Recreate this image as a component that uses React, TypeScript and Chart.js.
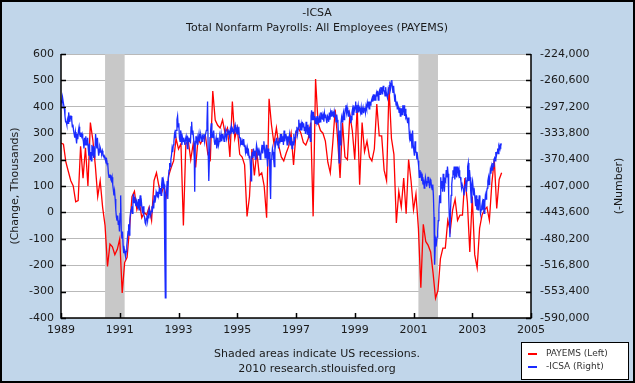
import React, { useEffect, useRef } from 'react';
import { Chart, registerables } from 'chart.js';

Chart.register(...registerables);

// ---------- data ----------
const TITLE_1 = '-ICSA';
const TITLE_2 = 'Total Nonfarm Payrolls: All Employees (PAYEMS)';
const LEFT_TITLE = '(Change, Thousands)';
const RIGHT_TITLE = '(-Number)';
const FOOT_1 = 'Shaded areas indicate US recessions.';
const FOOT_2 = '2010 research.stlouisfed.org';
const LEGEND_LABELS = ['PAYEMS (Left)', '-ICSA (Right)'];

const xTickYears = [1989, 1991, 1993, 1995, 1997, 1999, 2001, 2003, 2005];
const leftTicks = [-400, -300, -200, -100, 0, 100, 200, 300, 400, 500, 600];
const rightTicks = [-590000, -553400, -516800, -480200, -443600, -407000, -370400, -333800, -297200, -260600, -224000];

const recessionStarts = [1990.5, 2001.1667];
const recessionEnds = [1991.1667, 2001.8333];

// PAYEMS monthly change (thousands), Jan 1989 .. Jan 2004
const payemsStartYear = 1989;
const payems = [
  263, 258, 190, 155, 120, 100, 40, 45, 250, 130, 245, 100,
  340, 275, 180, 60, 120, 20, -50, -205, -120, -130, -160, -140,
  -100, -305, -190, -170, -60, 60, 80, 10, 40, -20, 0, -10,
  20, -30, 120, 150, 100, 70, 100, 60, 140, 170, 195, 280,
  240, 260, -50, 260, 270, 200, 260, 170, 280, 260, 280, 290,
  220, 200, 460, 350, 330, 320, 350, 300, 320, 210, 420, 280,
  320, 220, 210, 180, -15, 60, 240, 140, 230, 140, 150, 100,
  -20, 430, 330, 260, 320, 250, 210, 195, 225, 250, 300, 180,
  300, 320, 300, 265, 255, 280, 340, -15, 505, 340, 310, 300,
  270, 190, 150, 260, 390, 280, 130, 340, 210, 200, 370, 310,
  200, 400, 105, 340, 230, 270, 210, 195, 240, 410, 290, 290,
  160, 120, 475, 280, 220, -40, 80, 20, 130, -5, 200, 120,
  10, 70, -60, -285, -45, -110, -125, -150, -230, -325, -295, -175,
  -135, -135, -30, -70, 10, 50, -30, -10, -10, 130, 40, -150,
  60, -160, -210, -60, -10, 10, 20, -30, 110, 200, 15, 125,
  150,
];

// Initial claims (thousands), four readings per month, Jan 1989 .. Dec 2003 (plotted negated)
const icsaStartYear = 1989;
const icsaK = [
  // 1989
  288, 292, 284, 290, 290, 300, 310, 318, 318, 322, 315, 320, 305, 312, 318, 310,
  310, 315, 325, 322, 330, 335, 340, 332, 340, 348, 335, 342, 330, 325, 335, 338,
  333, 338, 335, 340, 345, 355, 340, 350, 338, 345, 350, 340, 355, 365, 348, 370,
  // 1990
  360, 372, 350, 365, 352, 368, 358, 362, 335, 345, 355, 340, 355, 365, 360, 352,
  355, 360, 362, 358, 362, 366, 365, 368, 368, 372, 370, 375, 378, 390, 395, 392,
  392, 398, 400, 395, 405, 412, 420, 414, 425, 440, 450, 455, 448, 460, 455, 470,
  // 1991
  445, 420, 470, 480, 470, 490, 500, 495, 500, 505, 498, 490, 480, 470, 460, 475,
  455, 445, 440, 435, 445, 425, 418, 430, 422, 430, 435, 428, 432, 438, 425, 440,
  428, 420, 435, 430, 440, 445, 435, 448, 450, 458, 460, 452, 448, 455, 445, 452,
  // 1992
  440, 445, 448, 442, 435, 440, 432, 438, 420, 430, 425, 415, 418, 422, 415, 420,
  412, 418, 410, 420, 405, 395, 410, 400, 405, 495, 562, 420, 415, 400, 425, 395,
  385, 375, 380, 370, 365, 355, 360, 350, 345, 335, 340, 330, 330, 315, 310, 325,
  // 1993
  320, 340, 345, 330, 335, 350, 340, 345, 340, 345, 350, 342, 338, 345, 355, 340,
  342, 345, 340, 348, 325, 318, 335, 330, 340, 350, 415, 345, 338, 345, 340, 350,
  342, 335, 345, 340, 336, 340, 345, 338, 340, 335, 345, 338, 338, 330, 320, 290,
  // 1994
  360, 400, 370, 340, 330, 320, 340, 335, 340, 330, 345, 350, 345, 340, 355, 350,
  340, 350, 345, 338, 342, 335, 345, 340, 335, 340, 345, 338, 330, 338, 342, 335,
  328, 335, 330, 338, 330, 335, 325, 332, 328, 330, 335, 325, 322, 330, 328, 335,
  // 1995
  328, 335, 325, 340, 340, 348, 345, 350, 345, 350, 342, 352, 350, 360, 355, 362,
  355, 365, 360, 368, 365, 378, 400, 370, 360, 368, 355, 365, 358, 370, 362, 350,
  355, 362, 358, 365, 360, 370, 365, 358, 350, 362, 355, 345, 355, 368, 360, 350,
  // 1996
  365, 380, 355, 370, 360, 400, 425, 370, 365, 355, 360, 370, 380, 345, 350, 342,
  340, 350, 345, 355, 340, 348, 335, 345, 335, 345, 338, 350, 330, 345, 340, 335,
  340, 350, 338, 345, 345, 335, 350, 340, 340, 355, 345, 350, 335, 345, 340, 332,
  // 1997
  330, 325, 335, 328, 315, 325, 320, 330, 322, 330, 318, 325, 320, 330, 325, 335,
  318, 328, 335, 322, 330, 340, 325, 345, 310, 302, 315, 305, 305, 315, 310, 320,
  312, 318, 310, 322, 315, 320, 312, 318, 305, 312, 308, 315, 310, 318, 306, 312,
  // 1998
  308, 315, 320, 310, 312, 318, 305, 315, 305, 310, 302, 308, 306, 312, 304, 310,
  310, 318, 308, 315, 320, 340, 375, 330, 350, 320, 312, 318, 310, 305, 315, 308,
  300, 295, 305, 298, 305, 310, 302, 308, 310, 320, 315, 305, 300, 308, 295, 302,
  // 1999
  298, 290, 305, 295, 300, 295, 305, 298, 300, 305, 298, 308, 302, 298, 306, 300,
  298, 305, 296, 300, 292, 298, 290, 300, 290, 295, 292, 288, 285, 290, 280, 288,
  280, 288, 285, 278, 282, 275, 288, 280, 275, 280, 270, 278, 270, 280, 268, 275,
  // 2000
  275, 282, 270, 278, 278, 285, 275, 280, 268, 262, 272, 265, 260, 270, 278, 268,
  280, 290, 285, 295, 290, 300, 295, 298, 305, 298, 310, 300, 300, 308, 295, 305,
  295, 310, 300, 312, 310, 315, 320, 312, 325, 340, 335, 345, 340, 355, 330, 350,
  // 2001
  350, 365, 345, 360, 360, 370, 365, 372, 380, 395, 385, 392, 390, 400, 395, 405,
  398, 410, 405, 395, 400, 408, 402, 395, 395, 405, 410, 398, 400, 408, 412, 405,
  420, 450, 516, 490, 482, 486, 478, 470, 455, 440, 420, 430, 395, 410, 400, 415,
  // 2002
  390, 405, 415, 398, 400, 385, 395, 380, 390, 420, 450, 478, 440, 420, 405, 395,
  385, 392, 380, 398, 390, 380, 395, 385, 380, 390, 385, 395, 395, 400, 410, 405,
  405, 412, 420, 410, 405, 395, 415, 400, 380, 375, 400, 385, 395, 415, 430, 405,
  // 2003
  400, 410, 420, 415, 425, 435, 420, 440, 425, 440, 430, 420, 430, 445, 440, 435,
  430, 440, 425, 445, 430, 420, 425, 415, 410, 400, 395, 405, 395, 385, 390, 380,
  385, 375, 380, 370, 368, 372, 360, 365, 360, 355, 362, 352, 355, 350, 352, 348,
];

// ---------- styles ----------
const FONT = 'DejaVu Sans';
const BG = '#C1D6EA';
const GRID = '#B9B9B9';
const SHADE = '#C8C8C8';
const RED = '#FF0000';
const BLUE = '#1A2BFF';
const TEXT = '#1a1a1a';

const W = 635;
const H = 383;

const decor = {
  id: 'decor',
  beforeDraw(chart: any) {
    const { ctx, chartArea: a } = chart;
    ctx.save();
    ctx.fillStyle = BG;
    ctx.fillRect(0, 0, W, H);
    ctx.fillStyle = '#FFFFFF';
    ctx.fillRect(a.left, a.top, a.right - a.left, a.bottom - a.top);
    ctx.restore();
  },
  beforeDatasetsDraw(chart: any) {
    const { ctx, chartArea: a } = chart;
    const xs = chart.scales.x;
    ctx.save();
    ctx.fillStyle = SHADE;
    for (let i = 0; i < recessionStarts.length; i++) {
      const x0 = xs.getPixelForValue(recessionStarts[i]);
      const x1 = xs.getPixelForValue(recessionEnds[i]);
      ctx.fillRect(x0, a.top, x1 - x0, a.bottom - a.top);
    }
    ctx.restore();
  },
  afterDraw(chart: any) {
    const { ctx, chartArea: a } = chart;
    const xs = chart.scales.x;
    const yl = chart.scales.y;
    const yr = chart.scales.y1;
    ctx.save();
    // axis frame
    ctx.strokeStyle = '#000';
    ctx.lineWidth = 1.5;
    ctx.beginPath();
    ctx.moveTo(a.left, a.top);
    ctx.lineTo(a.left, a.bottom);
    ctx.lineTo(a.right, a.bottom);
    ctx.lineTo(a.right, a.top);
    ctx.stroke();
    // inward ticks
    ctx.beginPath();
    for (const v of leftTicks) {
      const y = Math.round(yl.getPixelForValue(v)) + 0.5;
      ctx.moveTo(a.left, y);
      ctx.lineTo(a.left + 5, y);
    }
    for (const v of rightTicks) {
      const y = Math.round(yr.getPixelForValue(v)) + 0.5;
      ctx.moveTo(a.right, y);
      ctx.lineTo(a.right - 5, y);
    }
    for (const v of xTickYears) {
      const x = Math.round(xs.getPixelForValue(v)) + 0.5;
      ctx.moveTo(x, a.bottom);
      ctx.lineTo(x, a.bottom - 5);
    }
    ctx.stroke();

    ctx.fillStyle = TEXT;
    ctx.textAlign = 'center';
    ctx.textBaseline = 'middle';
    ctx.font = `11px "${FONT}"`;
    ctx.fillText(TITLE_1, 317, 13);
    ctx.fillText(TITLE_2, 317, 28);
    ctx.fillText(FOOT_1, 317, 354);
    ctx.fillText(FOOT_2, 317, 369);

    // axis titles
    const midY = (a.top + a.bottom) / 2;
    ctx.save();
    ctx.translate(15, midY);
    ctx.rotate(-Math.PI / 2);
    ctx.fillText(LEFT_TITLE, 0, 0);
    ctx.restore();
    ctx.save();
    ctx.translate(619, midY);
    ctx.rotate(-Math.PI / 2);
    ctx.fillText(RIGHT_TITLE, 0, 0);
    ctx.restore();

    // legend
    const lx = 521, ly = 342, lw = 107, lh = 37;
    ctx.fillStyle = '#FFFFFF';
    ctx.fillRect(lx, ly, lw, lh);
    ctx.strokeStyle = '#000';
    ctx.lineWidth = 1;
    ctx.strokeRect(lx + 0.5, ly + 0.5, lw, lh);
    const colors = [RED, BLUE];
    ctx.font = `9px "${FONT}"`;
    ctx.textAlign = 'left';
    for (let i = 0; i < 2; i++) {
      const yy = ly + 12 + i * 13;
      ctx.strokeStyle = colors[i];
      ctx.lineWidth = 2;
      ctx.beginPath();
      ctx.moveTo(lx + 7, yy);
      ctx.lineTo(lx + 16, yy);
      ctx.stroke();
      ctx.fillStyle = '#333';
      ctx.fillText(LEGEND_LABELS[i], lx + 25, yy);
    }

    // outer border
    ctx.strokeStyle = '#000';
    ctx.lineWidth = 2;
    ctx.strokeRect(1, 1, W - 2, H - 2);
    ctx.restore();
  },
};

export default function App() {
  const ref = useRef<HTMLCanvasElement | null>(null);

  useEffect(() => {
    document.body.style.margin = '0';
    const canvas = ref.current;
    if (!canvas) return;

    const redData = payems.map((v, i) => ({ x: payemsStartYear + i / 12, y: v }));
    const blueData = icsaK.map((v, i) => ({ x: icsaStartYear + (i + 0.5) / 48, y: -v * 1000 }));

    const chart = new Chart(canvas, {
      type: 'line',
      data: {
        datasets: [
          {
            label: LEGEND_LABELS[1],
            data: blueData,
            borderColor: BLUE,
            borderWidth: 1.3,
            pointRadius: 0,
            yAxisID: 'y1',
            tension: 0,
          },
          {
            label: LEGEND_LABELS[0],
            data: redData,
            borderColor: RED,
            borderWidth: 1.3,
            pointRadius: 0,
            yAxisID: 'y',
            tension: 0,
          },
        ],
      },
      options: {
        responsive: false,
        animation: false,
        layout: { padding: { top: 54, left: 0, right: 0, bottom: 0 } },
        plugins: { legend: { display: false }, tooltip: { enabled: false }, title: { display: false } },
        scales: {
          x: {
            type: 'linear',
            min: 1989,
            max: 2005,
            afterBuildTicks: (s: any) => { s.ticks = xTickYears.map((v) => ({ value: v })); },
            afterFit: (s: any) => { s.height = H - 318; },
            grid: { display: true, drawOnChartArea: false, drawTicks: false },
            border: { display: false },
            ticks: {
              padding: 6,
              maxRotation: 0,
              autoSkip: false,
              color: TEXT,
              font: { family: FONT, size: 11 },
              callback: (v: any) => String(v),
            },
          },
          y: {
            position: 'left',
            min: -400,
            max: 600,
            afterBuildTicks: (s: any) => { s.ticks = leftTicks.map((v) => ({ value: v })); },
            afterFit: (s: any) => { s.width = 61; },
            grid: { color: GRID, lineWidth: 1, drawTicks: false },
            border: { display: false },
            ticks: {
              padding: 7,
              color: TEXT,
              font: { family: FONT, size: 11 },
              callback: (v: any) => String(v),
            },
          },
          y1: {
            position: 'right',
            min: -590000,
            max: -224000,
            afterBuildTicks: (s: any) => { s.ticks = rightTicks.map((v) => ({ value: v })); },
            afterFit: (s: any) => { s.width = W - 531; },
            grid: { drawOnChartArea: false, drawTicks: false },
            border: { display: false },
            ticks: {
              padding: 9,
              color: TEXT,
              font: { family: FONT, size: 11 },
              callback: (v: any) => Number(v).toLocaleString('en-US'),
            },
          },
        },
      },
      plugins: [decor],
    });
    return () => chart.destroy();
  }, []);

  return (
    <div style={{ position: 'absolute', left: 0, top: 0, width: W, height: H }}>
      <canvas ref={ref} width={W} height={H} style={{ display: 'block', width: W, height: H }} />
    </div>
  );
}
